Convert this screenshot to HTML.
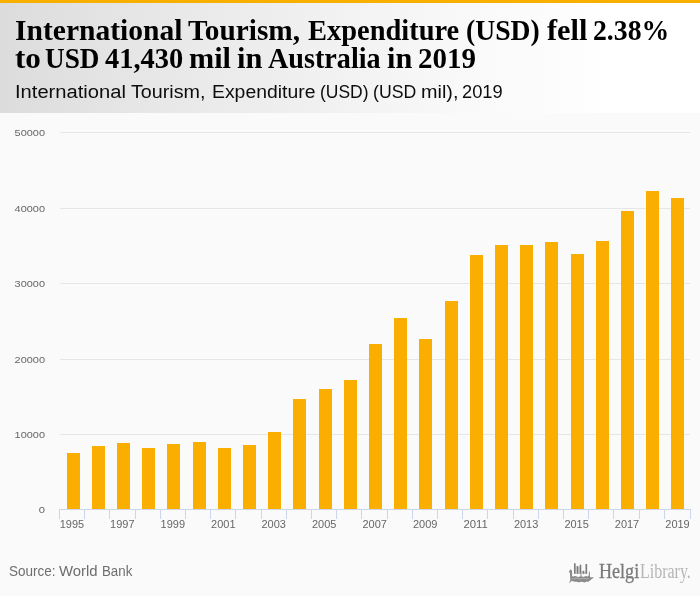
<!DOCTYPE html>
<html><head><meta charset="utf-8">
<style>
html,body{margin:0;padding:0;}
.wrap{position:absolute;left:0;top:0;width:700px;height:596px;will-change:transform;}
body{width:700px;height:596px;position:relative;overflow:hidden;background:#fafafa;font-family:"Liberation Sans",sans-serif;}
.topbar{position:absolute;left:0;top:0;width:700px;height:3px;background:#f9af00;}
.header{position:absolute;left:0;top:3px;width:700px;height:110px;background:linear-gradient(to right,#dcdcdc 0px,#e7e7e7 150px,#f8f8f8 450px,#ffffff 614px);}
.t{position:absolute;font-family:"Liberation Serif",serif;font-weight:bold;font-size:28.8px;line-height:28px;color:#000;white-space:nowrap;transform-origin:0 0;}
.sub{position:absolute;font-size:18px;line-height:20px;color:#0d0d0d;white-space:nowrap;transform-origin:0 0;}
.src{position:absolute;font-size:13.8px;line-height:16px;color:#6e6e6e;white-space:nowrap;transform-origin:0 0;}
svg{position:absolute;left:0;top:0;}
.logo{position:absolute;top:558.5px;white-space:nowrap;font-family:"Liberation Serif",serif;font-size:20px;line-height:24px;transform-origin:0 0;}
.logo.h{color:#7a7a7a;-webkit-text-stroke:0.3px #7a7a7a;transform:scaleX(0.904);}
.logo.l{color:#b6b6b6;transform:scaleX(0.798);}
</style></head><body><div class="wrap">
<div class="topbar"></div>
<div class="header"></div>
<span class="t" style="left:14.77px;top:16px;transform:scaleX(1.0259)">International</span>
<span class="t" style="left:188.30px;top:16px;transform:scaleX(1.0174)">Tourism,</span>
<span class="t" style="left:308.10px;top:16px;transform:scaleX(0.9876)">Expenditure</span>
<span class="t" style="left:465.74px;top:16px;transform:scaleX(0.9600)">(USD)</span>
<span class="t" style="left:546.90px;top:16px;transform:scaleX(1.0526)">fell</span>
<span class="t" style="left:593.24px;top:16px;transform:scaleX(0.9632)">2.38%</span>
<span class="t" style="left:14.72px;top:44px;transform:scaleX(1.0818)">to</span>
<span class="t" style="left:45.25px;top:44px;transform:scaleX(0.9455)">USD</span>
<span class="t" style="left:105.00px;top:44px;transform:scaleX(0.9872)">41,430</span>
<span class="t" style="left:188.95px;top:44px;transform:scaleX(1.0487)">mil</span>
<span class="t" style="left:236.94px;top:44px;transform:scaleX(1.0565)">in</span>
<span class="t" style="left:268.10px;top:44px;transform:scaleX(0.9783)">Australia</span>
<span class="t" style="left:387.05px;top:44px;transform:scaleX(1.0522)">in</span>
<span class="t" style="left:418.09px;top:44px;transform:scaleX(1.0071)">2019</span>
<span class="sub" style="left:14.56px;top:82px;transform:scaleX(1.1198)">International</span>
<span class="sub" style="left:131.30px;top:82px;transform:scaleX(1.0955)">Tourism,</span>
<span class="sub" style="left:211.92px;top:82px;transform:scaleX(1.0766)">Expenditure</span>
<span class="sub" style="left:320.03px;top:82px;transform:scaleX(0.9708)">(USD)</span>
<span class="sub" style="left:373.02px;top:82px;transform:scaleX(0.9810)">(USD</span>
<span class="sub" style="left:420.50px;top:82px;transform:scaleX(1.1000)">mil),</span>
<span class="sub" style="left:461.78px;top:82px;transform:scaleX(1.0158)">2019</span>
<svg width="700" height="596" viewBox="0 0 700 596">
<g stroke="#e6e6e6" stroke-width="1">
<line x1="60" y1="434.5" x2="690" y2="434.5"/>
<line x1="60" y1="359.5" x2="690" y2="359.5"/>
<line x1="60" y1="283.5" x2="690" y2="283.5"/>
<line x1="60" y1="208.5" x2="690" y2="208.5"/>
<line x1="60" y1="132.5" x2="690" y2="132.5"/>
</g>
<g fill="#f9ae00">
<rect x="67" y="453" width="13" height="56"/>
<rect x="92" y="446" width="13" height="63"/>
<rect x="117" y="443" width="13" height="66"/>
<rect x="142" y="448" width="13" height="61"/>
<rect x="167" y="444" width="13" height="65"/>
<rect x="193" y="442" width="13" height="67"/>
<rect x="218" y="448" width="13" height="61"/>
<rect x="243" y="445" width="13" height="64"/>
<rect x="268" y="432" width="13" height="77"/>
<rect x="293" y="399" width="13" height="110"/>
<rect x="319" y="389" width="13" height="120"/>
<rect x="344" y="380" width="13" height="129"/>
<rect x="369" y="344" width="13" height="165"/>
<rect x="394" y="318" width="13" height="191"/>
<rect x="419" y="339" width="13" height="170"/>
<rect x="445" y="301" width="13" height="208"/>
<rect x="470" y="255" width="13" height="254"/>
<rect x="495" y="245" width="13" height="264"/>
<rect x="520" y="245" width="13" height="264"/>
<rect x="545" y="242" width="13" height="267"/>
<rect x="571" y="254" width="13" height="255"/>
<rect x="596" y="241" width="13" height="268"/>
<rect x="621" y="211" width="13" height="298"/>
<rect x="646" y="191" width="13" height="318"/>
<rect x="671" y="198" width="13" height="311"/>
</g>
<g stroke="#ccd6eb" stroke-width="1">
<line x1="59" y1="509.5" x2="691" y2="509.5"/>
<line x1="59.5" y1="509" x2="59.5" y2="519"/>
<line x1="84.5" y1="509" x2="84.5" y2="519"/>
<line x1="109.5" y1="509" x2="109.5" y2="519"/>
<line x1="135.5" y1="509" x2="135.5" y2="519"/>
<line x1="160.5" y1="509" x2="160.5" y2="519"/>
<line x1="185.5" y1="509" x2="185.5" y2="519"/>
<line x1="210.5" y1="509" x2="210.5" y2="519"/>
<line x1="235.5" y1="509" x2="235.5" y2="519"/>
<line x1="261.5" y1="509" x2="261.5" y2="519"/>
<line x1="286.5" y1="509" x2="286.5" y2="519"/>
<line x1="311.5" y1="509" x2="311.5" y2="519"/>
<line x1="336.5" y1="509" x2="336.5" y2="519"/>
<line x1="361.5" y1="509" x2="361.5" y2="519"/>
<line x1="387.5" y1="509" x2="387.5" y2="519"/>
<line x1="412.5" y1="509" x2="412.5" y2="519"/>
<line x1="437.5" y1="509" x2="437.5" y2="519"/>
<line x1="462.5" y1="509" x2="462.5" y2="519"/>
<line x1="487.5" y1="509" x2="487.5" y2="519"/>
<line x1="513.5" y1="509" x2="513.5" y2="519"/>
<line x1="538.5" y1="509" x2="538.5" y2="519"/>
<line x1="563.5" y1="509" x2="563.5" y2="519"/>
<line x1="588.5" y1="509" x2="588.5" y2="519"/>
<line x1="613.5" y1="509" x2="613.5" y2="519"/>
<line x1="639.5" y1="509" x2="639.5" y2="519"/>
<line x1="664.5" y1="509" x2="664.5" y2="519"/>
<line x1="690.5" y1="509" x2="690.5" y2="519"/>
</g>
<g font-family="Liberation Sans" font-size="10" fill="#666" text-anchor="middle">
<text x="71.9" y="528" textLength="24.4" lengthAdjust="spacingAndGlyphs">1995</text>
<text x="122.3" y="528" textLength="24.4" lengthAdjust="spacingAndGlyphs">1997</text>
<text x="172.8" y="528" textLength="24.4" lengthAdjust="spacingAndGlyphs">1999</text>
<text x="223.3" y="528" textLength="24.4" lengthAdjust="spacingAndGlyphs">2001</text>
<text x="273.7" y="528" textLength="24.4" lengthAdjust="spacingAndGlyphs">2003</text>
<text x="324.2" y="528" textLength="24.4" lengthAdjust="spacingAndGlyphs">2005</text>
<text x="374.7" y="528" textLength="24.4" lengthAdjust="spacingAndGlyphs">2007</text>
<text x="425.2" y="528" textLength="24.4" lengthAdjust="spacingAndGlyphs">2009</text>
<text x="475.6" y="528" textLength="24.4" lengthAdjust="spacingAndGlyphs">2011</text>
<text x="526.1" y="528" textLength="24.4" lengthAdjust="spacingAndGlyphs">2013</text>
<text x="576.6" y="528" textLength="24.4" lengthAdjust="spacingAndGlyphs">2015</text>
<text x="627.0" y="528" textLength="24.4" lengthAdjust="spacingAndGlyphs">2017</text>
<text x="677.5" y="528" textLength="24.4" lengthAdjust="spacingAndGlyphs">2019</text>
</g>
<g font-family="Liberation Sans" font-size="9.8" fill="#666" text-anchor="end">
<text x="45" y="512.5" textLength="6.2" lengthAdjust="spacingAndGlyphs">0</text>
<text x="45" y="437.5" textLength="30.4" lengthAdjust="spacingAndGlyphs">10000</text>
<text x="45" y="362.5" textLength="30.4" lengthAdjust="spacingAndGlyphs">20000</text>
<text x="45" y="286.5" textLength="30.4" lengthAdjust="spacingAndGlyphs">30000</text>
<text x="45" y="211.5" textLength="30.4" lengthAdjust="spacingAndGlyphs">40000</text>
<text x="45" y="135.5" textLength="30.4" lengthAdjust="spacingAndGlyphs">50000</text>
</g>
</svg>
<svg width="700" height="596" viewBox="0 0 700 596">
<g transform="translate(566,560) scale(0.04699)">
<g fill="#c4c4c4">
<rect x="205" y="125" width="27" height="170"/>
<rect x="262" y="140" width="30" height="155"/>
<rect x="325" y="235" width="30" height="60"/>
<rect x="385" y="240" width="30" height="55"/>
</g>
<g fill="#7c7c7c">
<rect x="170" y="70" width="35" height="225"/>
<rect x="232" y="130" width="30" height="165"/>
<rect x="292" y="100" width="33" height="195"/>
<rect x="355" y="230" width="30" height="65"/>
<rect x="415" y="85" width="35" height="210"/>
</g>
<path fill="#8a8a8a" d="M62 250 Q80 198 108 202 Q134 222 130 265 L128 340 Q145 360 165 345 Q200 335 230 352 Q265 370 300 350 L310 345 L310 300 L330 300 L330 345 Q360 370 395 350 Q430 335 460 352 Q478 350 484 330 L488 238 Q500 238 506 262 L512 365 L592 368 Q570 395 540 412 Q520 440 490 450 Q465 468 430 458 Q400 490 360 470 Q330 455 300 468 Q265 480 235 462 Q205 470 175 455 Q150 462 125 440 L62 502 L92 425 Q86 380 86 300 Q86 268 62 250 Z"/>
<path fill="none" stroke="#c8c8c8" stroke-width="14" d="M125 395 Q160 410 195 392 Q230 378 265 398 Q300 415 340 395 Q375 378 410 398 Q445 412 480 390"/>
</g>
</svg>
<div class="logo h" style="left:598.7px">Helgi</div><div class="logo l" style="left:639.5px">Library.</div>
<span class="src" style="left:8.92px;top:564px;transform:scaleX(0.9783)">Source:</span>
<span class="src" style="left:59.00px;top:564px;transform:scaleX(1.0800)">World</span>
<span class="src" style="left:102.24px;top:564px;transform:scaleX(0.9633)">Bank</span>
</div></body></html>
